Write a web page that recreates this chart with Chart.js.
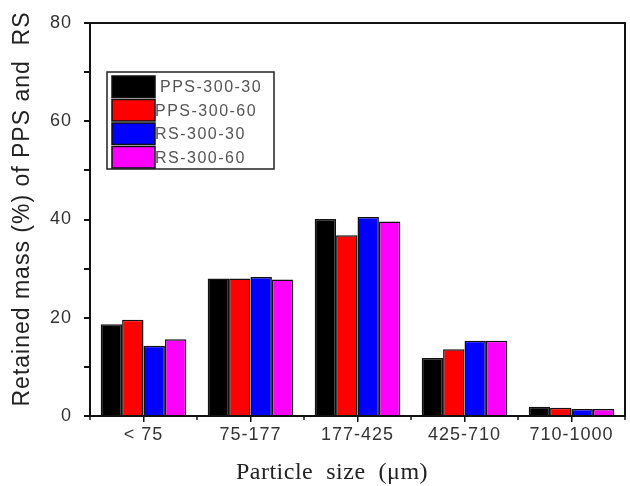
<!DOCTYPE html>
<html>
<head>
<meta charset="utf-8">
<script src="https://cdn.jsdelivr.net/npm/chart.js@4.4.1/dist/chart.umd.min.js"></script>
<style>
  html, body { margin: 0; padding: 0; background: #fff; }
  #wrap { width: 630px; height: 486px; }
</style>
</head>
<body>
<div id="wrap"><canvas id="chart" width="630" height="486"></canvas></div>
<script>
// categorias e valores
const categories = ['< 75', '75-177', '177-425', '425-710', '710-1000'];
const seriesNames = ['PPS-300-30', 'PPS-300-60', 'RS-300-30', 'RS-300-60'];
const seriesColors = ['#000000', '#ff0000', '#0000ff', '#ff00ff'];
const pps30 = [18.7, 28.0, 40.1, 11.8, 1.9];
const pps60 = [19.6, 28.0, 36.8, 13.6, 1.7];
const rs30 = [14.3, 28.3, 40.5, 15.3, 1.4];
const rs60 = [15.6, 27.8, 39.6, 15.3, 1.4];
const yMin = 0, yMax = 80, yStep = 10, yLabelStep = 20;

const seriesValues = [pps30, pps60, rs30, rs60];

// espaçamento entre letras como no original
const spacingPlugin = {
    id: 'spacing',
    beforeDraw(chart) {
        chart.ctx.letterSpacing = '1px';
    }
};

// moldura, ticks menores, títulos dos eixos e legenda
const framePlugin = {
    id: 'frame',
    afterDraw(chart) {
        const ctx = chart.ctx;
        const a = chart.chartArea;
        const x = chart.scales.x;
        ctx.save();
        ctx.strokeStyle = '#111';
        ctx.lineWidth = 2;
        ctx.strokeRect(a.left, a.top, a.right - a.left, a.bottom - a.top);

        // ticks menores nas fronteiras das categorias
        const half = (x.getPixelForValue(1) - x.getPixelForValue(0)) / 2;
        ctx.lineWidth = 1.5;
        for (let i = 0; i <= categories.length; i++) {
            const px = x.getPixelForValue(0) - half + i * half * 2;
            ctx.beginPath();
            ctx.moveTo(px, a.bottom);
            ctx.lineTo(px, a.bottom + 4);
            ctx.stroke();
        }

        // título do eixo x (deslocado para a esquerda como no original)
        ctx.fillStyle = '#222';
        ctx.letterSpacing = '0.5px';
        ctx.font = '24px "Liberation Serif", "Times New Roman", serif';
        ctx.textAlign = 'center';
        ctx.textBaseline = 'middle';
        ctx.fillText('Particle  size  (\u03bcm)', 332, 473);

        // título do eixo y
        ctx.save();
        ctx.translate(23, 209);
        ctx.rotate(-Math.PI / 2);
        ctx.letterSpacing = '1px';
        ctx.font = '23px "Liberation Sans", Arial, sans-serif';
        ctx.fillText('Retained mass (%) of PPS and  RS', 0, 0);
        ctx.restore();

        // legenda com caixa
        const bx = 107, by = 72, bw = 167, bh = 97;
        ctx.lineWidth = 1.5;
        ctx.strokeStyle = '#222';
        ctx.strokeRect(bx, by, bw, bh);
        const rowH = 23.5;
        ctx.font = '16px "Liberation Sans", Arial, sans-serif';
        ctx.textAlign = 'left';
        ctx.letterSpacing = '1.5px';
        chart.data.datasets.forEach((ds, i) => {
            const sy = by + 4 + i * rowH;
            ctx.fillStyle = ds.backgroundColor;
            ctx.fillRect(112, sy, 43, rowH - 2);
            ctx.strokeStyle = '#111';
            ctx.strokeRect(112, sy, 43, rowH - 2);
            ctx.fillStyle = '#555';
            ctx.fillText(ds.label, i === 0 ? 160 : 155, sy + rowH / 2);
        });
        ctx.restore();
    }
};

const datasets = seriesNames.map((name, i) => ({
    label: name,
    data: seriesValues[i],
    backgroundColor: seriesColors[i],
    borderColor: '#111',
    borderWidth: 1.5,
    categoryPercentage: 0.8,
    barPercentage: 1.0
}));

new Chart(document.getElementById('chart'), {
    type: 'bar',
    data: { labels: categories, datasets: datasets },
    options: {
        responsive: false,
        animation: false,
        layout: { padding: { top: 23, right: 5, left: 0, bottom: 0 } },
        plugins: {
            legend: { display: false },
            tooltip: { enabled: false }
        },
        scales: {
            x: {
                grid: {
                    offset: false,
                    drawOnChartArea: false,
                    drawTicks: true,
                    tickLength: 6,
                    color: '#111',
                    lineWidth: 1.5
                },
                border: { display: false },
                ticks: {
                    color: '#333',
                    padding: 2,
                    font: { family: '"Liberation Sans", Arial, sans-serif', size: 18 }
                },
                afterFit(scale) { scale.height = 70; }
            },
            y: {
                min: yMin,
                max: yMax,
                grid: {
                    drawOnChartArea: false,
                    drawTicks: true,
                    tickLength: 6,
                    color: '#111',
                    lineWidth: 2
                },
                border: { display: false },
                ticks: {
                    stepSize: yStep,
                    color: '#333',
                    padding: 12,
                    font: { family: '"Liberation Sans", Arial, sans-serif', size: 18 },
                    callback: v => (v % yLabelStep === 0 ? v : '')
                },
                afterFit(scale) { scale.width = 90; }
            }
        }
    },
    plugins: [spacingPlugin, framePlugin]
});
</script>
</body>
</html>
